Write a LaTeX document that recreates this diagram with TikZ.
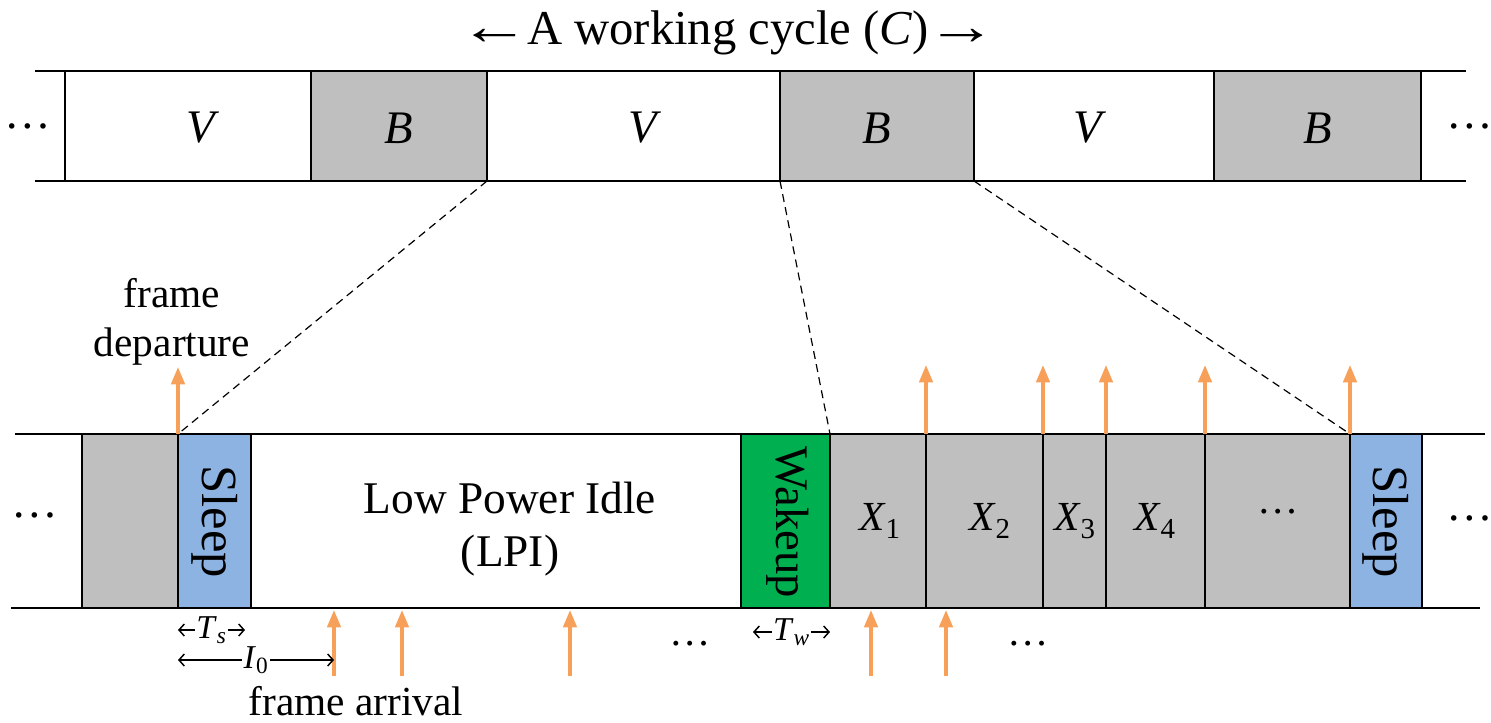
\documentclass[tikz,border=0pt]{standalone}
\usepackage{graphicx}
\usepackage{fontspec}
\setmainfont{Liberation Serif}
\usepackage{xcolor}
\usetikzlibrary{arrows.meta}

\definecolor{segGray}{RGB}{191,191,191}
\definecolor{sleepBlue}{RGB}{141,179,226}
\definecolor{wakeGreen}{RGB}{0,176,80}
\definecolor{frameOrange}{RGB}{247,160,90}

\newcommand{\longleft}{\scalebox{1.45}[1.1]{←}\kern-2pt}
\newcommand{\longright}{\kern-2pt\scalebox{1.45}[1.1]{→}}

\tikzset{
  rowline/.style={line width=1.3pt},
  segline/.style={line width=1.3pt},
  zoomline/.style={line width=0.9pt, dash pattern=on 6pt off 4pt},
  framearrow/.style={frameOrange, line width=2.6pt, -{Triangle[length=13pt,width=10pt]}},
  dimarrow/.style={line width=1.1pt, {Straight Barb[length=4pt,width=9pt]}-{Straight Barb[length=4pt,width=9pt]}},
  bigtxt/.style={inner sep=0.75pt, font=\fontsize{35}{40}\selectfont},
  midtxt/.style={inner sep=0.75pt, font=\fontsize{31}{37}\selectfont},
  smalltxt/.style={inner sep=0.75pt, font=\fontsize{25}{30}\selectfont}
}

\begin{document}
\begin{tikzpicture}[x=0.75pt,y=0.75pt,yscale=-1,xscale=1]
\useasboundingbox (0,0) rectangle (1491,722);

% Text Node
\node[bigtxt, font=\fontsize{36.5}{42}\selectfont] (title) at (728,33) {\longleft A working cycle (\textit{C})\longright};

%Straight Lines: top row
\draw[rowline] (35,71) -- (1466,71);
\draw[rowline] (35,181) -- (1466,181);
%Shape: Rectangle
\draw[segline, fill=white] (65,71) rectangle (311,181);
\draw[segline, fill=segGray] (311,71) rectangle (487,181);
\draw[segline, fill=white] (487,71) rectangle (780,181);
\draw[segline, fill=segGray] (780,71) rectangle (974,181);
\draw[segline, fill=white] (974,71) rectangle (1214,181);
\draw[segline, fill=segGray] (1214,71) rectangle (1421,181);

% Text Node
\node[bigtxt] (dotsTL) at (28,126) {\dots};
\node[bigtxt] (dotsTR) at (1470,126) {\dots};
\node[bigtxt] (vA) at (203,128) {\textit{V}};
\node[bigtxt] (bA) at (399,128) {\textit{B}};
\node[bigtxt] (vB) at (645,128) {\textit{V}};
\node[bigtxt] (bB) at (877,128) {\textit{B}};
\node[bigtxt] (vC) at (1090,128) {\textit{V}};
\node[bigtxt] (bC) at (1318,128) {\textit{B}};

%Straight Lines: bottom row
\draw[rowline] (15,434) -- (1485,434);
\draw[rowline] (11,608) -- (1480,608);
%Shape: Rectangle
\draw[segline, fill=segGray] (82,434) rectangle (178,608);
\draw[segline, fill=sleepBlue] (178,434) rectangle (251,608);
\draw[segline, fill=wakeGreen] (741,434) rectangle (830,608);
\draw[segline, fill=segGray] (830,434) rectangle (926,608);
\draw[segline, fill=segGray] (926,434) rectangle (1043,608);
\draw[segline, fill=segGray] (1043,434) rectangle (1106,608);
\draw[segline, fill=segGray] (1106,434) rectangle (1205,608);
\draw[segline, fill=segGray] (1205,434) rectangle (1350,608);
\draw[segline, fill=sleepBlue] (1350,434) rectangle (1422,608);

% corners for the zoom lines
\coordinate (bAse) at (487,181);
\coordinate (bBsw) at (780,181);
\coordinate (bBse) at (974,181);
\coordinate (sleepAnw) at (178,434);
\coordinate (wakeNe) at (830,434);
\coordinate (sleepBnw) at (1350,434);
%Straight Lines [dashed]
\draw[zoomline] (bAse) -- (sleepAnw);
\draw[zoomline] (bBsw) -- (wakeNe);
\draw[zoomline] (bBse) -- (sleepBnw);

% Text Node
\node[bigtxt] (dotsBL) at (35,515) {\dots};
\node[bigtxt] (dotsBR) at (1470,518) {\dots};
\node[bigtxt, font=\fontsize{38}{42}\selectfont, rotate=-90] (sleepA) at (215,522) {Sleep};
\node[bigtxt, font=\fontsize{38}{42}\selectfont, rotate=-90] (sleepB) at (1386,522) {Sleep};
\node[bigtxt, rotate=-90] (wake) at (788,522) {Wakeup};
\node[bigtxt, font=\fontsize{34}{40}\selectfont, align=center] (lpi) at (510,529) {Low Power Idle\\(LPI)};
\node[midtxt] (xA) at (880,521) {\textit{X}\textsubscript{1}};
\node[midtxt] (xB) at (990,521) {\textit{X}\textsubscript{2}};
\node[midtxt] (xC) at (1075,521) {\textit{X}\textsubscript{3}};
\node[midtxt] (xD) at (1155,521) {\textit{X}\textsubscript{4}};
\node[midtxt] (dotsX) at (1278,512) {\dots};

% departures
\coordinate (depA) at (178,434);   \coordinate (depAt) at (178,367);
\coordinate (depB) at (926,434);   \coordinate (depBt) at (926,365);
\coordinate (depC) at (1043,434);  \coordinate (depCt) at (1043,365);
\coordinate (depD) at (1106,434);  \coordinate (depDt) at (1106,365);
\coordinate (depE) at (1205,434);  \coordinate (depEt) at (1205,365);
\coordinate (depF) at (1350,434);  \coordinate (depFt) at (1350,365);
\draw[framearrow] (depA) -- (depAt);
\draw[framearrow] (depB) -- (depBt);
\draw[framearrow] (depC) -- (depCt);
\draw[framearrow] (depD) -- (depDt);
\draw[framearrow] (depE) -- (depEt);
\draw[framearrow] (depF) -- (depFt);
% Text Node
\node[midtxt, align=center] (depLbl) at (172,322) {frame\\departure};

% arrivals
\coordinate (arrA) at (334,676);  \coordinate (arrAt) at (334,610);
\coordinate (arrB) at (402,676);  \coordinate (arrBt) at (402,610);
\coordinate (arrC) at (570,676);  \coordinate (arrCt) at (570,610);
\coordinate (arrD) at (871,676);  \coordinate (arrDt) at (871,610);
\coordinate (arrE) at (946,676);  \coordinate (arrEt) at (946,610);
\draw[framearrow] (arrA) -- (arrAt);
\draw[framearrow] (arrB) -- (arrBt);
\draw[framearrow] (arrC) -- (arrCt);
\draw[framearrow] (arrD) -- (arrDt);
\draw[framearrow] (arrE) -- (arrEt);
% Text Node
\node[midtxt, inner sep=0pt] (arrLbl) at (356,701) {frame arrival};
\node[midtxt] (dotsArrA) at (690,644) {\dots};
\node[midtxt] (dotsArrB) at (1028,644) {\dots};

% durations
\coordinate (tsL) at (178,630);  \coordinate (tsR) at (245,630);
\coordinate (ioL) at (178,660);  \coordinate (ioR) at (334,660);
\coordinate (twL) at (753,632);  \coordinate (twR) at (830,632);
\draw[dimarrow] (tsL) -- node[smalltxt, fill=white, inner xsep=1pt] (ts) {\textit{T}\textsubscript{\textit{s}}} (tsR);
\draw[dimarrow] (ioL) -- node[smalltxt, fill=white, inner xsep=1pt] (io) {\textit{I}\textsubscript{0}} (ioR);
\draw[dimarrow] (twL) -- node[smalltxt, fill=white, inner xsep=1pt] (tw) {\textit{T}\textsubscript{\textit{w}}} (twR);
\end{tikzpicture}
\end{document}
